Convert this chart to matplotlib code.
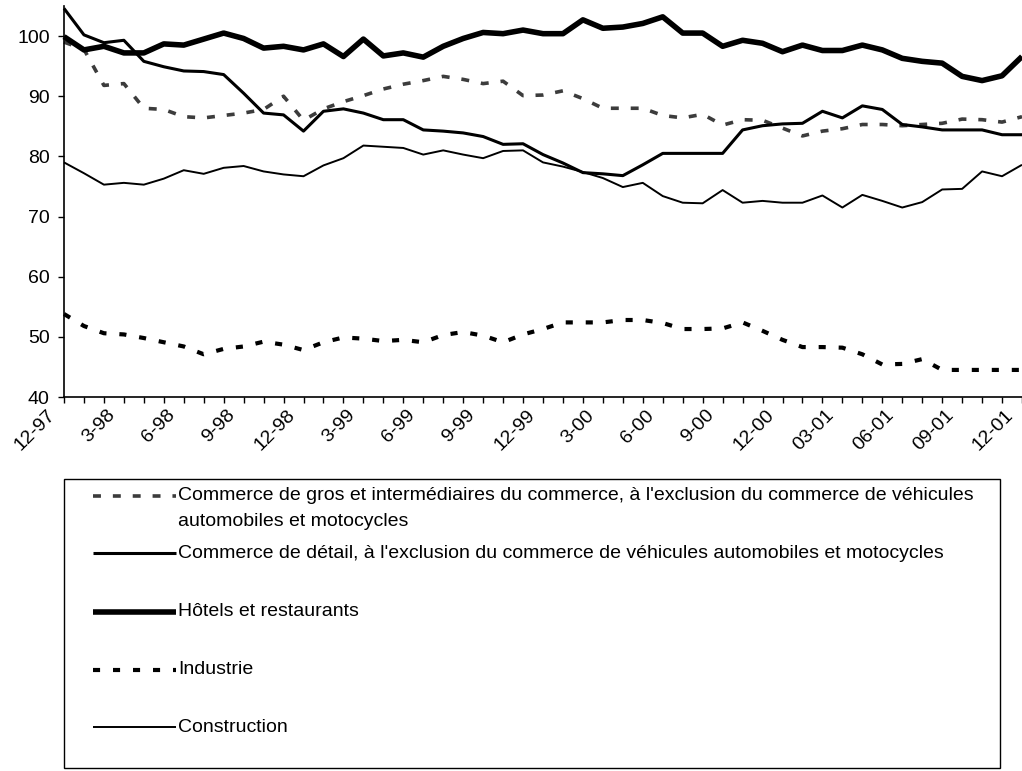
import matplotlib
matplotlib.use("Agg")
import matplotlib.pyplot as plt
from matplotlib.patches import Rectangle
from matplotlib.transforms import ScaledTranslation

plt.rcParams['font.family'] = ['Liberation Sans', 'DejaVu Sans']

# months 12-97 .. 12-01, one point per month
months = list(range(49))
tick_labels = ['12-97', '3-98', '6-98', '9-98', '12-98', '3-99', '6-99', '9-99', '12-99',
               '3-00', '6-00', '9-00', '12-00', '03-01', '06-01', '09-01', '12-01']

gros = [99.0, 97.8, 91.8, 92.1, 88.0, 87.8, 86.6, 86.4, 86.8, 87.2, 87.8, 90.0, 86.0,
        87.9, 89.1, 90.1, 91.2, 92.0, 92.6, 93.3, 92.8, 92.1, 92.5, 90.1, 90.2, 90.9,
        89.6, 88.0, 88.0, 88.0, 86.8, 86.4, 87.0, 85.2, 86.1, 86.0, 84.7, 83.4, 84.2,
        84.6, 85.3, 85.3, 85.1, 85.3, 85.5, 86.2, 86.1, 85.7, 86.6]
detail = [104.6, 100.2, 98.9, 99.3, 95.8, 94.9, 94.2, 94.1, 93.6, 90.5, 87.2, 86.9, 84.2,
          87.5, 87.9, 87.2, 86.1, 86.1, 84.4, 84.2, 83.9, 83.3, 82.0, 82.1, 80.3, 78.9,
          77.3, 77.1, 76.8, 78.6, 80.5, 80.5, 80.5, 80.5, 84.4, 85.1, 85.4, 85.5, 87.5,
          86.4, 88.4, 87.8, 85.3, 84.9, 84.4, 84.4, 84.4, 83.6, 83.6]
hotels = [99.9, 97.7, 98.3, 97.2, 97.2, 98.7, 98.5, 99.5, 100.5, 99.6, 98.0, 98.3, 97.7,
          98.7, 96.6, 99.5, 96.7, 97.2, 96.5, 98.3, 99.6, 100.6, 100.4, 101.0, 100.4, 100.4,
          102.7, 101.3, 101.5, 102.1, 103.2, 100.5, 100.5, 98.3, 99.3, 98.8, 97.4, 98.5,
          97.6, 97.6, 98.5, 97.7, 96.3, 95.8, 95.5, 93.3, 92.6, 93.4, 96.6]
industrie = [53.8, 51.8, 50.6, 50.4, 49.8, 49.1, 48.4, 47.1, 48.0, 48.4, 49.2, 48.7, 47.8,
             49.1, 49.9, 49.7, 49.3, 49.5, 49.1, 50.3, 50.8, 50.2, 49.1, 50.4, 51.3, 52.4,
             52.4, 52.4, 52.8, 52.8, 52.3, 51.3, 51.3, 51.4, 52.4, 51.0, 49.5, 48.3, 48.3,
             48.2, 47.1, 45.4, 45.5, 46.3, 44.5, 44.5, 44.5, 44.5, 44.5]
construction = [79.0, 77.2, 75.3, 75.6, 75.3, 76.3, 77.7, 77.1, 78.1, 78.4, 77.5, 77.0, 76.7,
                78.5, 79.7, 81.8, 81.6, 81.4, 80.3, 81.0, 80.3, 79.7, 80.9, 81.0, 79.0, 78.3,
                77.4, 76.4, 74.9, 75.6, 73.4, 72.3, 72.2, 74.4, 72.3, 72.6, 72.3, 72.3, 73.5,
                71.5, 73.6, 72.6, 71.5, 72.4, 74.5, 74.6, 77.5, 76.7, 78.6]

names = ["Commerce de gros et intermédiaires du commerce, à l'exclusion du commerce de véhicules\nautomobiles et motocycles",
         "Commerce de détail, à l'exclusion du commerce de véhicules automobiles et motocycles",
         "Hôtels et restaurants",
         "Industrie",
         "Construction"]
series = [gros, detail, hotels, industrie, construction]
styles = [dict(color='#3c3c3c', lw=2.6, ls=(0, (2.2, 3.3))),
          dict(color='black', lw=2.2, ls='-'),
          dict(color='black', lw=4.0, ls='-'),
          dict(color='black', lw=3.0, ls=(0, (1.7, 3.1))),
          dict(color='black', lw=1.4, ls='-')]

fig = plt.figure(figsize=(10.22, 7.71), dpi=100)
ax = fig.add_axes([64/1022, (771-397)/771, (1022-64)/1022, (397-6)/771])

for vals, st in zip(series, styles):
    ax.plot(months, vals, solid_capstyle='butt', dash_capstyle='butt', clip_on=False, **st)

ax.set_xlim(0, 48)
ax.set_ylim(40, 105)
ax.set_yticks(range(40, 101, 10))
ax.tick_params(axis='y', labelsize=14, length=4.3, width=1, direction='out', pad=6)
ax.set_xticks(months)
xl = []
for m in months:
    xl.append(tick_labels[m // 3] if m % 3 == 0 else '')
ax.set_xticklabels(xl, rotation=45, ha='right', va='top', rotation_mode='anchor')
ax.tick_params(axis='x', labelsize=14, length=4, width=1, direction='out', pad=3)
shift = ScaledTranslation(-17/100, 0, fig.dpi_scale_trans)
for lab in ax.get_xticklabels():
    lab.set_transform(lab.get_transform() + shift)
for s in ['top', 'right']:
    ax.spines[s].set_visible(False)
for s in ['left', 'bottom']:
    ax.spines[s].set_linewidth(1.2)

# legend box drawn by hand (first entry wraps on two lines)
lg = fig.add_axes([0, 0, 1, 1])
lg.set_xlim(0, 1022)
lg.set_ylim(771, 0)
lg.axis('off')
lg.add_patch(Rectangle((64, 479), 936, 289, fill=False, lw=1.0, ec='black'))
row_y = [496, 553, 612, 670, 727]
for y, name, st in zip(row_y, names, styles):
    lg.plot([93, 176], [y, y], solid_capstyle='butt', dash_capstyle='butt', **st)
    lines = name.split('\n')
    for k, t in enumerate(lines):
        lg.text(178, y + k*26, t, fontsize=14, va='center', ha='left')

fig.savefig('out.png', dpi=100)
